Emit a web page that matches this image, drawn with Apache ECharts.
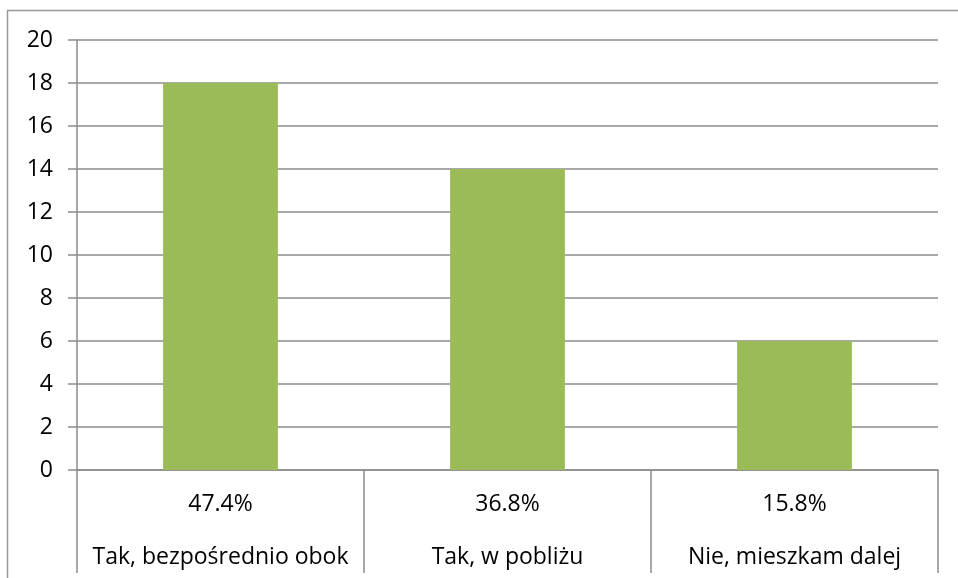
<!DOCTYPE html>
<html><head><meta charset="utf-8">
<script src="https://cdn.jsdelivr.net/npm/echarts@6/dist/echarts.min.js"></script>
<style>html,body{margin:0;padding:0;background:#fff}#c{width:958px;height:578px}</style>
</head><body><div id="c"></div>
<script>
const categories = ['Tak, bezpośrednio obok', 'Tak, w pobliżu', 'Nie, mieszkam dalej'];
const percents = ['47.4%', '36.8%', '15.8%'];
const values = [18, 14, 6];
const yTicks = { min: 0, max: 20, interval: 2 };

const gray = '#8c8c8c';
const font = 'Open Sans, Noto Sans, sans-serif';
const chart = echarts.init(document.getElementById('c'));
chart.setOption({
  animation: false,
  graphic: [
    { type: 'polyline', shape: { points: [[7.5, 578], [7.5, 10.5], [958, 10.5]] }, style: { stroke: '#999', lineWidth: 1.5, fill: null } }
  ],
  grid: { left: 77, right: 20, top: 40, bottom: 108 },
  xAxis: {
    type: 'category',
    data: categories,
    axisLine: { show: true, lineStyle: { color: gray, width: 1.5 } },
    axisTick: { show: true, length: 103, interval: 0, lineStyle: { color: gray, width: 1.5 } },
    axisLabel: {
      interval: 0, margin: 8,
      formatter: (v, i) => '{p|' + percents[i] + '}\n{c|' + v + '}',
      rich: {
        p: { fontSize: 23, lineHeight: 53, color: '#000', fontFamily: font },
        c: { fontSize: 23, lineHeight: 53, color: '#000', fontFamily: font }
      }
    }
  },
  yAxis: {
    type: 'value', min: yTicks.min, max: yTicks.max, interval: yTicks.interval,
    axisLine: { show: true, lineStyle: { color: gray, width: 1.5 } },
    axisTick: { show: true, length: 9, lineStyle: { color: gray, width: 1.5 } },
    axisLabel: { fontSize: 23, color: '#000', margin: 24, fontFamily: font },
    splitLine: { lineStyle: { color: gray, width: 1.5 } }
  },
  series: [{
    type: 'bar', data: values, barWidth: '40%',
    itemStyle: { color: '#9BBB59' }
  }]
});
</script></body></html>
